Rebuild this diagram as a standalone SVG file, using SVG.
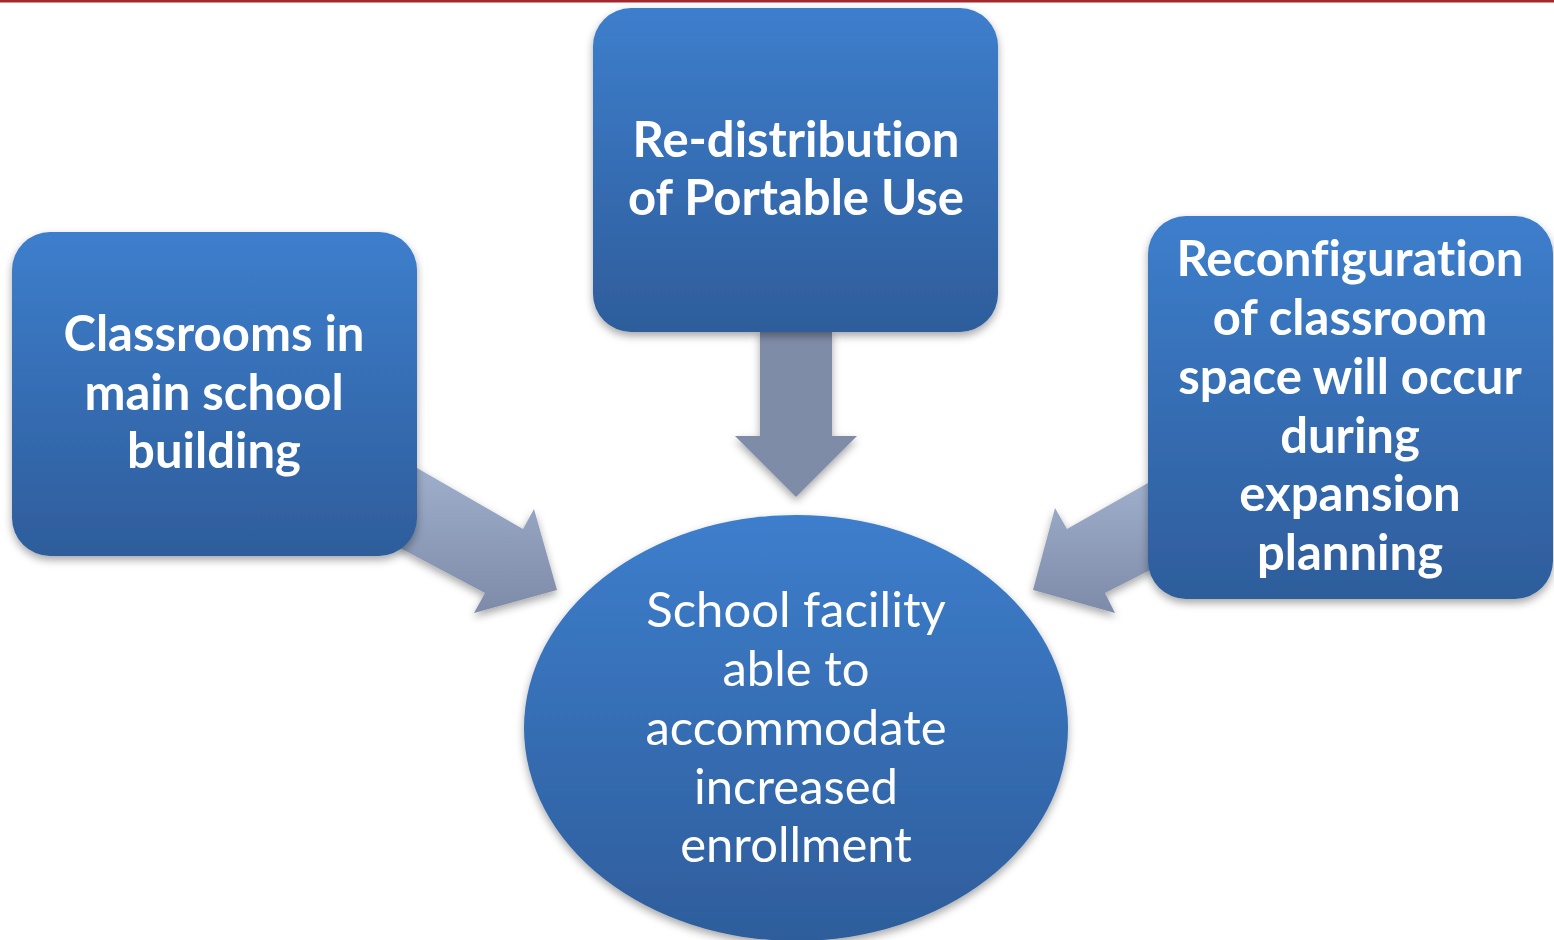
<svg xmlns="http://www.w3.org/2000/svg" width="1554" height="940" viewBox="0 0 1554 940">
<defs>
<linearGradient id="boxg" x1="0" y1="0" x2="0" y2="1">
<stop offset="0" stop-color="#3D7ECC"/>
<stop offset="1" stop-color="#2E5D9B"/>
</linearGradient>
<linearGradient id="arrg" x1="0" y1="0" x2="0" y2="1">
<stop offset="0" stop-color="#9EAECB"/>
<stop offset="1" stop-color="#7E8BA8"/>
</linearGradient>
<filter id="sh" x="-10%" y="-10%" width="120%" height="125%">
<feDropShadow dx="0" dy="4" stdDeviation="4" flood-color="#000" flood-opacity="0.35"/>
</filter>
</defs>
<style>
.box{fill:url(#boxg);filter:url(#sh);}
.arr{fill:url(#arrg);filter:url(#sh);}
.bt{font-family:Lato,"Open Sans",sans-serif;font-weight:bold;font-size:49px;fill:#fff;text-anchor:middle;font-variant-ligatures:none;}
.et{font-family:Lato,"Open Sans",sans-serif;font-size:49px;fill:#fff;text-anchor:middle;font-variant-ligatures:none;}
</style>
<rect x="0" y="0" width="1554" height="2.5" fill="#A3282C"/>
<g id="connectors">
<polygon class="arr" points="760,330 832,330 832,436 857,436 796,497 735,436 760,436" style="fill:#7F8CA8"/>
<polygon class="arr" points="417,468 523,529 534,509 557,590 474,613 485,593 400,548 390,480"/>
<polygon class="arr" points="1148,483 1067,529 1055,508 1033,590 1115,613 1105,593 1160,565 1160,490"/>
</g>
<g id="node-left">
<rect class="box" x="12" y="232" width="405" height="324" rx="38"/>
<text class="bt" x="214" y="351">Classrooms in</text>
<text class="bt" x="214" y="410">main school</text>
<text class="bt" x="214" y="468">building</text>
</g>
<g id="node-top">
<rect class="box" x="593" y="8" width="405" height="324" rx="38"/>
<text class="bt" x="796" y="157">Re-distribution</text>
<text class="bt" x="796" y="215">of Portable Use</text>
</g>
<g id="node-right">
<rect class="box" x="1148" y="216" width="405" height="383" rx="38"/>
<text class="bt" x="1350" y="276">Reconfiguration</text>
<text class="bt" x="1350" y="335">of classroom</text>
<text class="bt" x="1350" y="394">space will occur</text>
<text class="bt" x="1350" y="453">during</text>
<text class="bt" x="1350" y="511">expansion</text>
<text class="bt" x="1350" y="570">planning</text>
</g>
<g id="node-center">
<ellipse class="box" cx="796" cy="728" rx="272" ry="213"/>
<text class="et" x="796" y="627">School facility</text>
<text class="et" x="796" y="686">able to</text>
<text class="et" x="796" y="745">accommodate</text>
<text class="et" x="796" y="804">increased</text>
<text class="et" x="796" y="862">enrollment</text>
</g>
</svg>
